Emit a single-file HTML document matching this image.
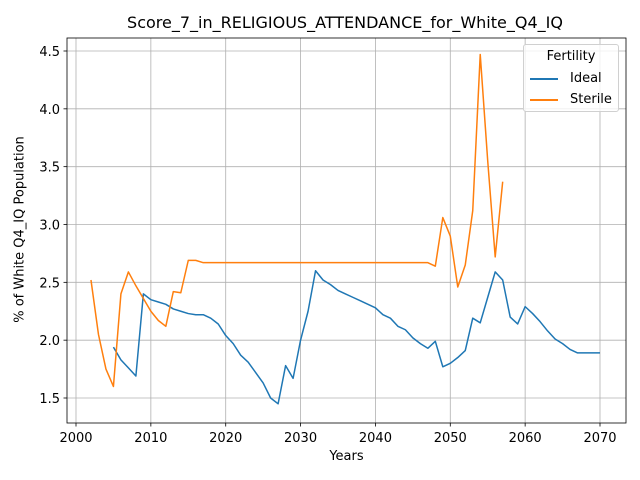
<!DOCTYPE html>
<html><head><meta charset="utf-8"><style>body{margin:0;background:#fff}svg{display:block;font-family:"DejaVu Sans","Liberation Sans",sans-serif}</style></head>
<body>
<svg id="chart" width="640" height="480"></svg>
<script>
const idealYears = [2005,2006,2007,2008,2009,2010,2011,2012,2013,2014,2015,2016,2017,2018,2019,2020,2021,2022,2023,2024,2025,2026,2027,2028,2029,2030,2031,2032,2033,2034,2035,2036,2037,2038,2039,2040,2041,2042,2043,2044,2045,2046,2047,2048,2049,2050,2051,2052,2053,2054,2055,2056,2057,2058,2059,2060,2061,2062,2063,2064,2065,2066,2067,2068,2069,2070];
const idealValues = [1.94,1.83,1.76,1.69,2.40,2.35,2.33,2.31,2.27,2.25,2.23,2.22,2.22,2.19,2.14,2.04,1.97,1.87,1.81,1.72,1.63,1.50,1.45,1.78,1.67,2.00,2.25,2.60,2.52,2.48,2.43,2.40,2.37,2.34,2.31,2.28,2.22,2.19,2.12,2.09,2.02,1.97,1.93,1.99,1.77,1.80,1.85,1.91,2.19,2.15,2.37,2.59,2.52,2.20,2.14,2.29,2.23,2.16,2.08,2.01,1.97,1.92,1.89,1.89,1.89,1.89];
const sterileYears = [2002,2003,2004,2005,2006,2007,2008,2009,2010,2011,2012,2013,2014,2015,2016,2017,2047,2048,2049,2050,2051,2052,2053,2054,2055,2056,2057];
const sterileValues = [2.52,2.05,1.75,1.60,2.40,2.59,2.47,2.36,2.25,2.17,2.12,2.42,2.41,2.69,2.69,2.67,2.67,2.64,3.06,2.90,2.46,2.65,3.12,4.47,3.55,2.72,3.37];
const xTicks = [2000,2010,2020,2030,2040,2050,2060,2070];
const yTicks = [1.5,2.0,2.5,3.0,3.5,4.0,4.5];

const svg = document.getElementById('chart');
const NS = 'http://www.w3.org/2000/svg';
const L=67,R=626,T=38,B=423;
const xs = v => 76 + (v-2000)*(600-76)/70;
const ys = v => 398 - (v-1.5)*(398-51)/3;
function mk(tag, attrs, parent){const e=document.createElementNS(NS,tag);for(const k in attrs)e.setAttribute(k,attrs[k]);(parent||svg).appendChild(e);return e;}

const grid = mk('g',{});


xTicks.forEach(t=>{mk('line',{x1:xs(t),x2:xs(t),y1:T,y2:B,stroke:'#b0b0b0','stroke-width':0.8},grid);});
yTicks.forEach(t=>{mk('line',{x1:L,x2:R,y1:ys(t),y2:ys(t),stroke:'#b0b0b0','stroke-width':0.8},grid);});

const xax = mk('g',{});


xTicks.forEach(t=>{mk('line',{x1:xs(t),x2:xs(t),y1:B,y2:B+3.5,stroke:'#000','stroke-width':0.8},xax);
 const tx=mk('text',{x:xs(t),y:B+19,'text-anchor':'middle','font-size':13},xax);tx.textContent=t;});
const yax = mk('g',{});


yTicks.forEach(t=>{mk('line',{x1:L-3.5,x2:L,y1:ys(t),y2:ys(t),stroke:'#000','stroke-width':0.8},yax);
 const tx=mk('text',{x:L-7,y:ys(t)+5,'text-anchor':'end','font-size':13},yax);tx.textContent=t.toFixed(1);});

function line(xv,yv,color,name){const p=mk('polyline',{points:xv.map((x,i)=>xs(x)+','+ys(yv[i])).join(' '),fill:'none',stroke:color,'stroke-width':1.5,'stroke-linejoin':'round'});
 
 }
line(idealYears,idealValues,'#1f77b4','ideal-line');
line(sterileYears,sterileValues,'#ff7f0e','sterile-line');

mk('rect',{x:L,y:T,width:R-L,height:B-T,fill:'none',stroke:'#000','stroke-width':0.8});
</script>
<div style="position:absolute;left:0;top:0;width:640px;height:480px;pointer-events:none;font-family:'DejaVu Sans','Liberation Sans',sans-serif">
<div style="position:absolute;left:0;width:690px;top:13px;text-align:center;font-size:16px;white-space:nowrap">Score_7_in_RELIGIOUS_ATTENDANCE_for_White_Q4_IQ</div>
<div style="position:absolute;left:67px;width:559px;top:449px;text-align:center;font-size:13px">Years</div>
<div style="position:absolute;left:-110px;width:260px;top:222px;text-align:center;font-size:13px;transform:rotate(-90deg);white-space:nowrap">% of White Q4_IQ Population</div>
<div style="position:absolute;left:523px;top:44px;width:94px;height:66px;border:1px solid #d0d0d0;border-radius:3px;background:rgba(255,255,255,0.8);font-size:13px">
<div style="text-align:center;margin-top:4px">Fertility</div>
<div style="position:absolute;left:6px;top:26px;white-space:nowrap"><span style="display:inline-block;width:28px;height:2px;background:#1f77b4;vertical-align:middle;margin-right:12px"></span>Ideal</div>
<div style="position:absolute;left:6px;top:47px;white-space:nowrap"><span style="display:inline-block;width:28px;height:2px;background:#ff7f0e;vertical-align:middle;margin-right:12px"></span>Sterile</div>
</div>
</div>
</body></html>
